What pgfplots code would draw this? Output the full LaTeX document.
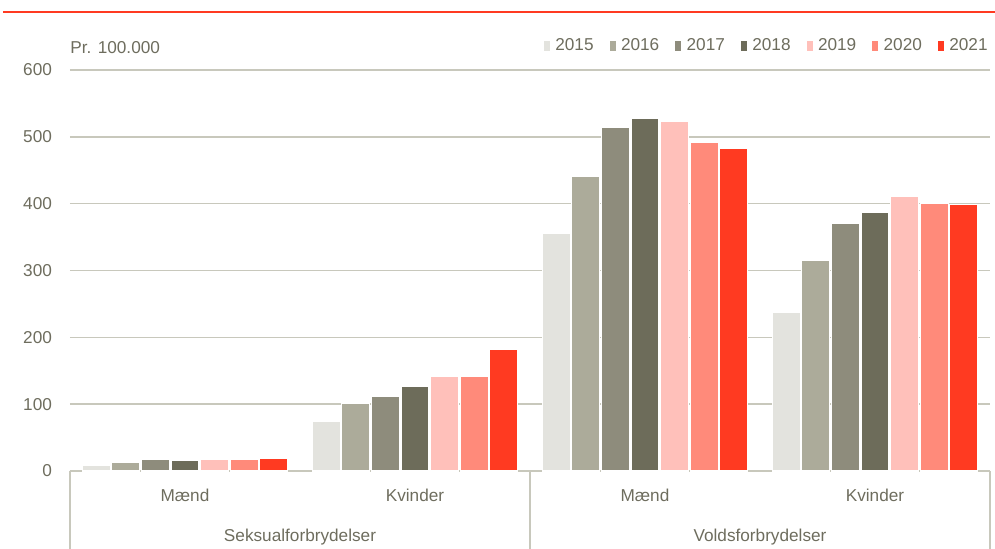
\documentclass[border=0pt]{standalone}
\usepackage{pgfplots}
\usepackage{pgfplotstable}
\pgfplotsset{compat=1.18}
\usepackage{fontspec}
\setmainfont{Liberation Sans}
\definecolor{c15}{HTML}{E3E3DE}
\definecolor{c16}{HTML}{ACAB9A}
\definecolor{c17}{HTML}{8E8C7C}
\definecolor{c18}{HTML}{6D6C5A}
\definecolor{c19}{HTML}{FFC0BA}
\definecolor{c20}{HTML}{FF8A7A}
\definecolor{c21}{HTML}{FF3A21}
\definecolor{txt}{HTML}{6E6D5E}
\definecolor{gridc}{HTML}{C8C8BC}
\pgfplotstableread{
x y15 y16 y17 y18 y19 y20 y21
0 8 13 18 16 17 18 19
1 74 101 112 127 141 142 182
2 356 441 514 528 523 491 483
3 238 315 371 387 411 400 399
}\data
\begin{document}
\begin{tikzpicture}[x=1pt,y=1pt]
\useasboundingbox (0,0) rectangle (497.5,274.5);
\draw[c21, line width=1.4pt] (1.5,268.5) -- (497.5,268.5);
\begin{axis}[
  at={(35pt,39pt)}, anchor=south west,
  scale only axis, width=460pt, height=200.5pt,
  ybar=0.8pt, bar width=14pt,
  ymin=0, ymax=600, xmin=-0.5, xmax=3.5,
  xtick={0,1,2,3}, xticklabels={Mænd,Kvinder,Mænd,Kvinder},
  ytick={0,100,...,600},
  ymajorgrids, grid style={gridc, line width=0.8pt},
  axis x line*=bottom, axis y line*=left,
  y axis line style={draw=none},
  x axis line style={draw=gridc, line width=0.8pt, -},
  major tick length=0pt,
  tick label style={font=\fontsize{8.6}{10}\selectfont, text=txt},
  /pgf/number format/assume math mode=true,
  yticklabel style={xshift=-5.5pt},
  xticklabel style={anchor=base, yshift=-15.1pt},
  clip=false,
  legend style={draw=none, fill=none, at={(1,1)}, anchor=south east, yshift=4pt, xshift=4pt,
    font=\fontsize{8.6}{10}\selectfont, text=txt,
    /tikz/every even column/.append style={column sep=5.5pt}},
  legend columns=-1,
  legend image code/.code={\fill[#1] (0pt,-2.8pt) rectangle (3.6pt,2.8pt);},
  every axis plot/.append style={draw=white, line width=0.6pt},
]
\addplot[fill=c15] table[x=x,y=y15]{\data};
\addplot[fill=c16] table[x=x,y=y16]{\data};
\addplot[fill=c17] table[x=x,y=y17]{\data};
\addplot[fill=c18] table[x=x,y=y18]{\data};
\addplot[fill=c19] table[x=x,y=y19]{\data};
\addplot[fill=c20] table[x=x,y=y20]{\data};
\addplot[fill=c21] table[x=x,y=y21]{\data};
\legend{2015,2016,2017,2018,2019,2020,2021}
\node[anchor=base west, inner sep=0pt, text=txt, font=\fontsize{8.6}{10}\selectfont] at ([yshift=8.4pt]rel axis cs:0,1) {Pr. 100.000};
\node[anchor=base, inner sep=0pt, text=txt, font=\fontsize{8.6}{10}\selectfont] at ([yshift=-35.2pt]axis cs:0.5,0) {Seksualforbrydelser};
\node[anchor=base, inner sep=0pt, text=txt, font=\fontsize{8.6}{10}\selectfont] at ([yshift=-35.2pt]axis cs:2.5,0) {Voldsforbrydelser};
\draw[gridc, line width=0.8pt] (axis cs:-0.5,0) -- ++(0pt,-39pt);
\draw[gridc, line width=0.8pt] (axis cs:1.5,0) -- ++(0pt,-39pt);
\draw[gridc, line width=0.8pt] (axis cs:3.5,0) -- ++(0pt,-39pt);
\end{axis}
\end{tikzpicture}
\end{document}
